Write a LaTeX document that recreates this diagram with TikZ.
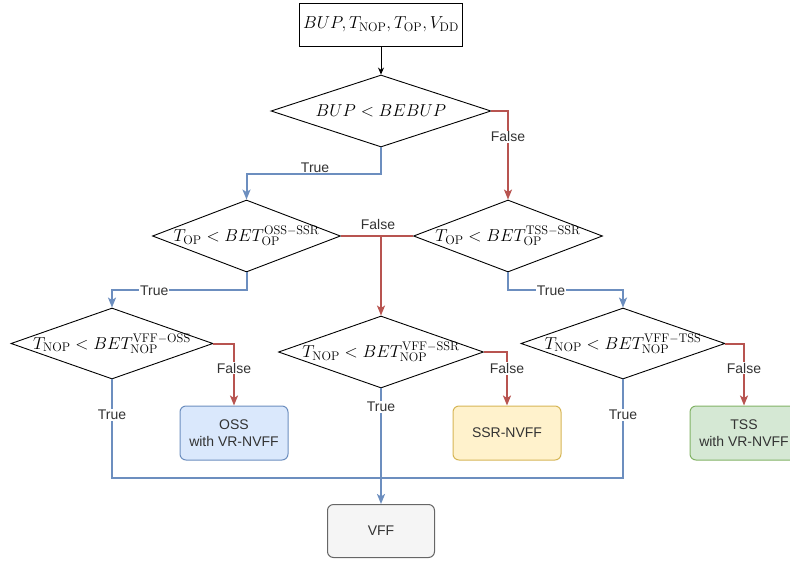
\documentclass[tikz,border=0pt]{standalone}
\usepackage{fontspec}
\newfontfamily\labelfont{Liberation Sans}
\usetikzlibrary{shapes.geometric,arrows.meta}

\definecolor{edgeblue}{HTML}{6C8EBF}
\definecolor{edgered}{HTML}{B85450}
\definecolor{textgray}{HTML}{333333}
\definecolor{ossfill}{HTML}{DAE8FC}
\definecolor{ssrfill}{HTML}{FFF2CC}
\definecolor{ssrline}{HTML}{D6B656}
\definecolor{tssfill}{HTML}{D5E8D4}
\definecolor{tssline}{HTML}{82B366}
\definecolor{vfffill}{HTML}{F5F5F5}
\definecolor{vffline}{HTML}{666666}

\newcommand\mathsz{\fontsize{17.8}{21}\selectfont}
\newcommand\labelsz{\labelfont\fontsize{14}{16.7}\selectfont}

\begin{document}
\begin{tikzpicture}[x=1pt,y=-1pt,
  >={Stealth[length=10pt,width=8pt,inset=2.5pt]},
  every label/.style={font=\mathsz},
  cond/.style 2 args={diamond,draw,line width=0.9pt,minimum width=#1,minimum height=#2,inner sep=0pt},
  result/.style 2 args={draw=#1,fill=#2,rounded corners=6pt,line width=1pt,
    minimum width=108pt,minimum height=54pt,align=center,font=\labelsz,text=textgray},
  lbl/.style={fill=white,inner sep=1pt,font=\labelsz,text=textgray},
  yes/.style={draw=edgeblue,line width=2pt},
  no/.style={draw=edgered,line width=2pt}]
\useasboundingbox (0,0) rectangle (790,560);
\clip (0,0) rectangle (790,560);

% inputs
\node[draw,line width=0.9pt,minimum width=162pt,minimum height=43pt,font=\mathsz]
  (in) at (381,24.5) {$BUP, T_{\mathrm{NOP}}, T_{\mathrm{OP}}, V_{\mathrm{DD}}$};

% decisions
\node[cond={220pt}{72pt},label=center:{$BUP < BEBUP$}] (d1) at (381,111) {};
\node[cond={188pt}{72pt},label=center:{$T_{\mathrm{OP}} < BET^{\mathrm{OSS-SSR}}_{\mathrm{OP}}$}] (d2) at (246.5,236) {};
\node[cond={189pt}{72pt},label=center:{$T_{\mathrm{OP}} < BET^{\mathrm{TSS-SSR}}_{\mathrm{OP}}$}] (d3) at (508,236) {};
\node[cond={202pt}{71pt},label=center:{$T_{\mathrm{NOP}} < BET^{\mathrm{VFF-OSS}}_{\mathrm{NOP}}$}] (d4) at (112,343.5) {};
\node[cond={205pt}{72pt},label=center:{$T_{\mathrm{NOP}} < BET^{\mathrm{VFF-SSR}}_{\mathrm{NOP}}$}] (d5) at (381,352) {};
\node[cond={204pt}{71pt},label=center:{$T_{\mathrm{NOP}} < BET^{\mathrm{VFF-TSS}}_{\mathrm{NOP}}$}] (d6) at (623,343.5) {};

% outcomes
\node[result={edgeblue}{ossfill}] (oss) at (234,433) {OSS\\with VR-NVFF};
\node[result={ssrline}{ssrfill}] (ssr) at (507,433) {SSR-NVFF};
\node[result={tssline}{tssfill}] (tss) at (744,433) {TSS\\with VR-NVFF};
\node[result={vffline}{vfffill},minimum width=107pt,minimum height=53pt] (vff) at (381,531) {VFF};

\coordinate (j) at (381,236);
\coordinate (m) at (381,478);

\draw[line width=0.9pt,-{Stealth[length=7pt,width=6pt]}] (in) -- (d1);

\draw[yes,->] (d1.south) -- ++(0,27) -| node[lbl,pos=0.245,yshift=7pt] {True} (d2.north);
\draw[no,->] (d1.east) -| node[lbl,pos=0.645] {False} (d3.north);

\draw[no] (d2.east) -- node[lbl,pos=1,yshift=12pt,xshift=-3pt,fill=none] {False} (j);
\draw[no] (d3.west) -- (j);
\draw[no,->] (j) -- (d5.north);

\draw[yes,->] (d2.south) -- ++(0,18) -| node[lbl,pos=0.343] {True} (d4.north);
\draw[yes,->] (d3.south) -- ++(0,18) -| node[lbl,pos=0.187] {True} (d6.north);

\draw[no,->] (d4.east) -| node[lbl,pos=0.7] {False} (oss.north);
\draw[no,->] (d5.east) -| node[lbl,pos=0.655] {False} (ssr.north);
\draw[no,->] (d6.east) -| node[lbl,pos=0.7] {False} (tss.north);

\draw[yes] (d4.south) |- node[lbl,pos=0.18] {True} (m);
\draw[yes] (d6.south) |- node[lbl,pos=0.18] {True} (m);
\draw[yes,->] (d5.south) -- node[lbl,pos=0.16] {True} (vff.north);
\end{tikzpicture}
\end{document}
